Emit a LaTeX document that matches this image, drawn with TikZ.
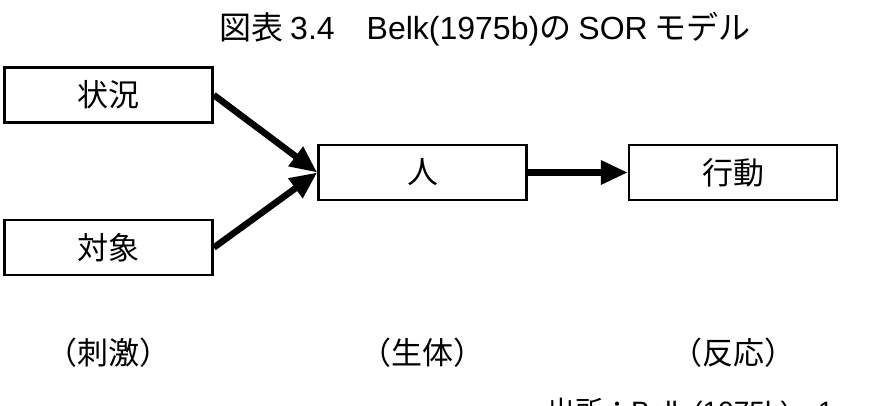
\documentclass[tikz,border=0pt]{standalone}
\usepackage{fontspec}
\setmainfont{Noto Sans CJK JP}
\newfontfamily\latinfont{Liberation Sans}
\usepackage{tikz}
\usetikzlibrary{positioning, arrows.meta}

\begin{document}
\begin{tikzpicture}[
    x=1pt, y=-1pt,
    node distance=95pt and 100pt,
    titletext/.style={font=\fontsize{32}{34}\selectfont, inner sep=0pt},
    sorbox/.style={
        rectangle, draw=black, fill=white,
        minimum width=208pt, minimum height=55pt, align=center,
        line width=2.6pt, font=\fontsize{31}{34}\selectfont
    },
    phaselabel/.style={font=\fontsize{31}{34}\selectfont, inner sep=0pt},
    sourcetext/.style={font=\fontsize{28}{30}\selectfont, inner sep=0pt, anchor=north west},
    arrstyle/.style={-{Triangle[length=27pt, width=23pt]}, line width=6.5pt, black},
]

% ---- Canvas ----
\clip (0,0) rectangle (873,406);
\fill[white] (0,0) rectangle (873,406);

% ---- Title ----
\node[titletext] (title) at (485,29)
    {図表 {\latinfont 3.4}　{\latinfont Belk(1975b)}の {\latinfont SOR} モデル};

% ---- Stimulus boxes ----
\node[sorbox] (jokyo) at (108.5,95) {状況};
\node[sorbox, below=95pt of jokyo] (taisho) {対象};

% ---- Organism and response ----
\node[sorbox] (hito) at (422.5,172.5) {人};
\node[sorbox, right=100pt of hito] (kodo) {行動};

% ---- Arrows ----
\draw[arrstyle] (jokyo.east) -- (hito.west);
\draw[arrstyle] (taisho.east) -- (hito.west);
\draw[arrstyle] (hito.east) -- (kodo.west);

% ---- Stage labels (bottom) ----
\node[phaselabel] (shigeki) at (jokyo |- 0,353) {（刺激）};
\node[phaselabel] (seitai) at (hito |- 0,353) {（生体）};
\node[phaselabel] (hanno) at (kodo |- 0,353) {（反応）};

% ---- Source line (cut off) ----
\node[sourcetext] (source) at (547,398) {出所：{\latinfont Belk (1975b)}、{\latinfont 1}};

\end{tikzpicture}
\end{document}
